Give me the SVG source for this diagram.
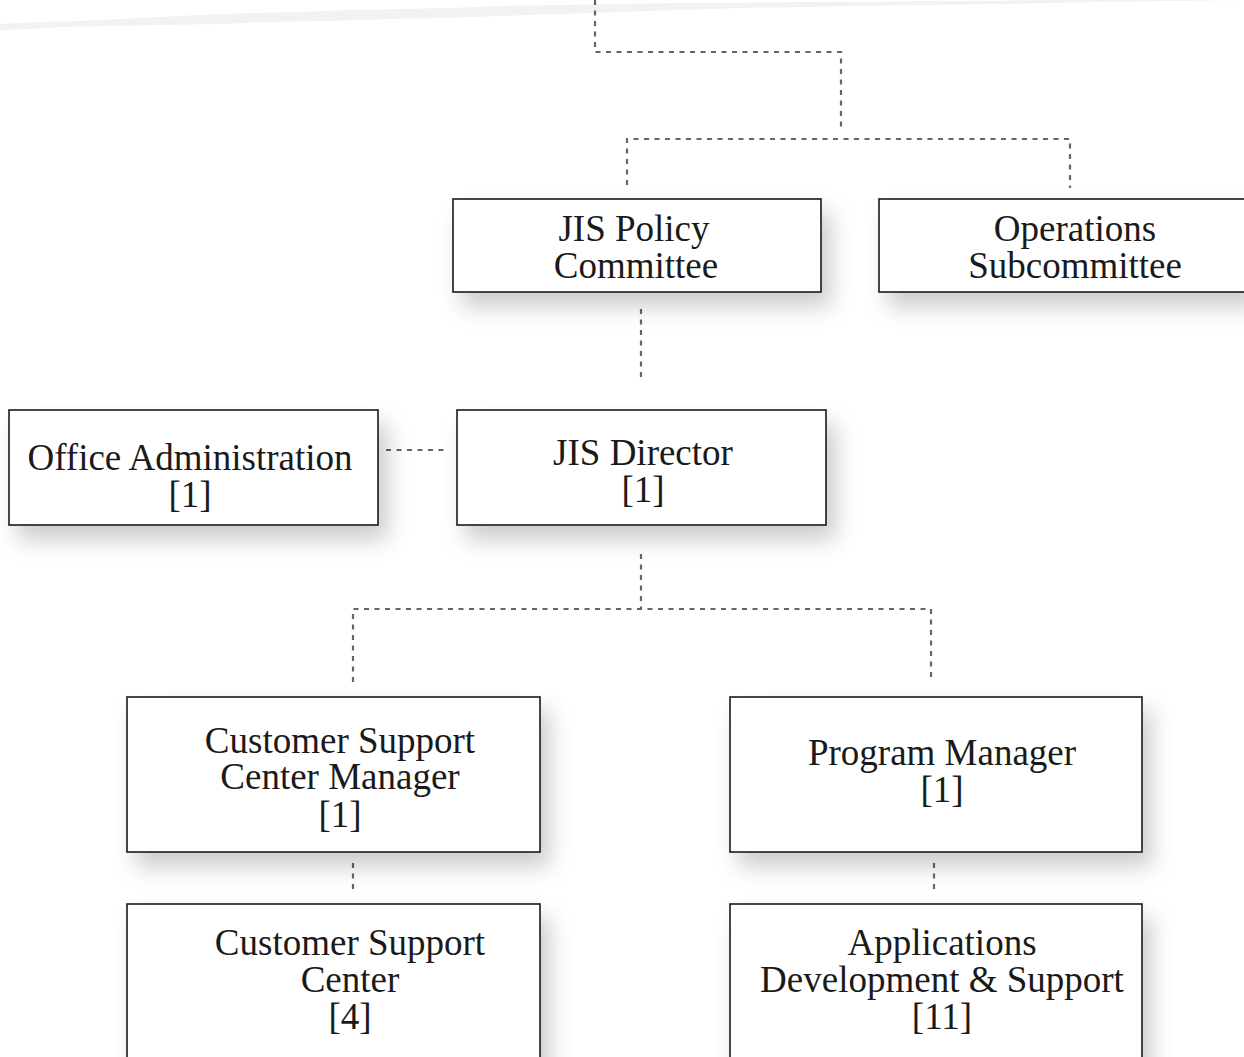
<svg xmlns="http://www.w3.org/2000/svg" width="1244" height="1057" viewBox="0 0 1244 1057">
<defs>
<filter id="sh" x="-10%" y="-20%" width="130%" height="170%">
<feDropShadow dx="9" dy="14" stdDeviation="11" flood-color="#000" flood-opacity="0.2"/>
</filter>
<style>
.box{fill:#fff;stroke:#1a1a1a;stroke-width:1.6;filter:url(#sh)}
.t{font-family:"Liberation Serif","Times New Roman",serif;font-size:37px;fill:#1a1a1a;text-anchor:middle}
.c{fill:none;stroke:#666;stroke-width:2.2;stroke-dasharray:5 5.5}
</style>
</defs>
<rect width="1244" height="1057" fill="#fff"/>
<path d="M0,24 L40,22 L80,21 L120,19 L160,17 L200,15 L250,13 L300,12 L350,10 L400,9 L450,8 L500,6 L560,5 L620,4 L680,3 L740,3 L800,2 L860,2 L920,1 L980,1 L1050,0 L1244,0 L1244,0 L1100,2 L1000,4 L930,5 L860,6 L800,7 L740,8 L680,10 L620,12 L560,14 L500,16 L440,18 L390,19 L330,21 L270,22 L220,24 L160,25 L110,26 L60,27 L30,29 L0,30 Z" fill="#f1f2f1"/>
<g id="connectors">
<path class="c" d="M595,0 V52 H841 V128"/>
<path class="c" d="M627,185 V139 H1070 V188"/>
<path class="c" d="M641,309 V380"/>
<path class="c" d="M386,450 H446"/>
<path class="c" d="M641,554 V608"/>
<path class="c" d="M353,682 V609 H931 V682"/>
<path class="c" d="M353,863 V890"/>
<path class="c" d="M934,863 V890"/>
</g>
<g id="jis-policy-committee">
<rect class="box" x="453" y="199" width="368" height="93"/>
<text class="t" x="634" y="241">JIS Policy</text>
<text class="t" x="636" y="278">Committee</text>
</g>
<g id="operations-subcommittee">
<rect class="box" x="879" y="199" width="370" height="93"/>
<text class="t" x="1075" y="241">Operations</text>
<text class="t" x="1075" y="278">Subcommittee</text>
</g>
<g id="office-administration">
<rect class="box" x="9" y="410" width="369" height="115"/>
<text class="t" x="190" y="470">Office Administration</text>
<text class="t" x="190" y="507">[1]</text>
</g>
<g id="jis-director">
<rect class="box" x="457" y="410" width="369" height="115"/>
<text class="t" x="643" y="465">JIS Director</text>
<text class="t" x="643" y="502">[1]</text>
</g>
<g id="customer-support-center-manager">
<rect class="box" x="127" y="697" width="413" height="155"/>
<text class="t" x="340" y="753">Customer Support</text>
<text class="t" x="340" y="789">Center Manager</text>
<text class="t" x="340" y="827">[1]</text>
</g>
<g id="program-manager">
<rect class="box" x="730" y="697" width="412" height="155"/>
<text class="t" x="942" y="765">Program Manager</text>
<text class="t" x="942" y="802">[1]</text>
</g>
<g id="customer-support-center">
<rect class="box" x="127" y="904" width="413" height="170"/>
<text class="t" x="350" y="955">Customer Support</text>
<text class="t" x="350" y="992">Center</text>
<text class="t" x="350" y="1029">[4]</text>
</g>
<g id="applications-development-support">
<rect class="box" x="730" y="904" width="412" height="170"/>
<text class="t" x="942" y="955">Applications</text>
<text class="t" x="942" y="992">Development &amp; Support</text>
<text class="t" x="942" y="1029">[11]</text>
</g>
</svg>
